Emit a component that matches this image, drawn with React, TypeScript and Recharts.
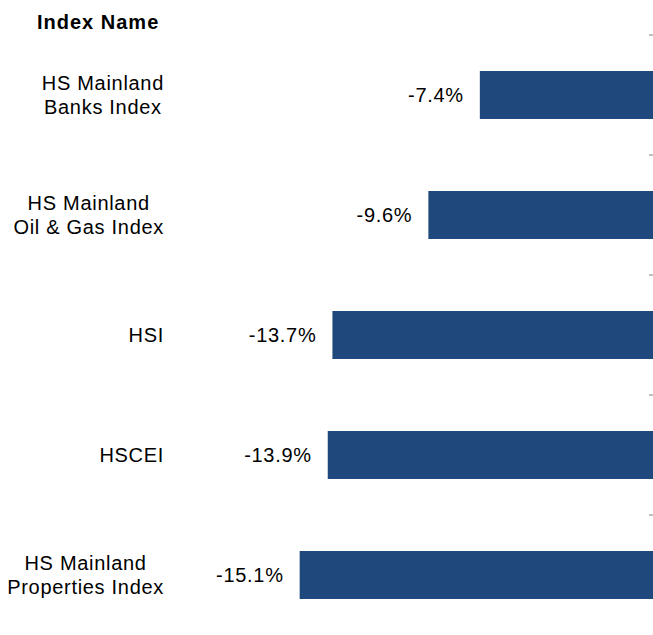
import { BarChart, Bar, XAxis, YAxis, LabelList } from 'recharts';

const indexNames = [
  'HS Mainland\nBanks Index',
  'HS Mainland\nOil & Gas Index',
  'HSI',
  'HSCEI',
  'HS Mainland\nProperties Index',
];
const changes = [-7.4, -9.6, -13.7, -13.9, -15.1];

const data = indexNames.map((name, i) => ({ name, value: changes[i] }));

const W = 653;
const H = 635;
const FONT = '"Liberation Sans", Arial, sans-serif';
const SIZE = 20;
const SPACING = 0.7;

let ctx: CanvasRenderingContext2D | null = null;
const measure = (s: string) => {
  if (!ctx) ctx = document.createElement('canvas').getContext('2d');
  if (!ctx) return s.length * SIZE * 0.55;
  ctx.font = `${SIZE}px ${FONT}`;
  return ctx.measureText(s).width + s.length * SPACING;
};

// category label, plus the small boundary tick on the right edge
const NameTick = (props: any) => {
  const { x, y, payload } = props;
  const lines = String(payload.value).split('\n');
  const maxW = Math.max(...lines.map(measure));
  const cx = x - maxW / 2;
  const lh = 23.3;
  const top = y - (payload.offset || 0);
  return (
    <g>
      <line x1={W - 4} x2={W} y1={top} y2={top} stroke="#808080" />
      <text textAnchor="middle" fontFamily={FONT} fontSize={SIZE} letterSpacing={SPACING} fill="#000">
        {lines.map((l, i) => (
          <tspan key={i} x={cx} y={y + (i - (lines.length - 1) / 2) * lh + 7}>
            {l}
          </tspan>
        ))}
      </text>
    </g>
  );
};

const ValueLabel = (props: any) => {
  const { x, y, width, height, value } = props;
  const left = Math.min(x, x + width);
  return (
    <text
      x={left - 16}
      y={y + height / 2 + 7}
      textAnchor="end"
      fontFamily={FONT}
      fontSize={SIZE}
      letterSpacing={SPACING}
      fill="#000"
    >
      {`${Number(value).toFixed(1)}%`}
    </text>
  );
};

export default function App() {
  return (
    <div style={{ position: 'absolute', left: 0, top: 0, width: W, height: H, background: '#fff' }}>
      <div
        style={{
          position: 'absolute',
          left: 37,
          top: 12,
          fontFamily: FONT,
          fontSize: SIZE,
          fontWeight: 'bold',
          lineHeight: '20px',
          letterSpacing: 1,
          color: '#000',
        }}
      >
        Index Name
      </div>
      <BarChart
        layout="vertical"
        width={W}
        height={H}
        data={data}
        margin={{ top: 35, right: 0, bottom: 0, left: 0 }}
      >
        <XAxis type="number" domain={[-20, 0]} hide />
        <YAxis
          type="category"
          dataKey="name"
          width={185}
          axisLine={false}
          tickLine={false}
          tickSize={0}
          tickMargin={21}
          tick={NameTick}
          interval={0}
        />
        <Bar dataKey="value" fill="#1f497d" barSize={48} isAnimationActive={false}>
          <LabelList dataKey="value" content={ValueLabel} />
        </Bar>
      </BarChart>
    </div>
  );
}
